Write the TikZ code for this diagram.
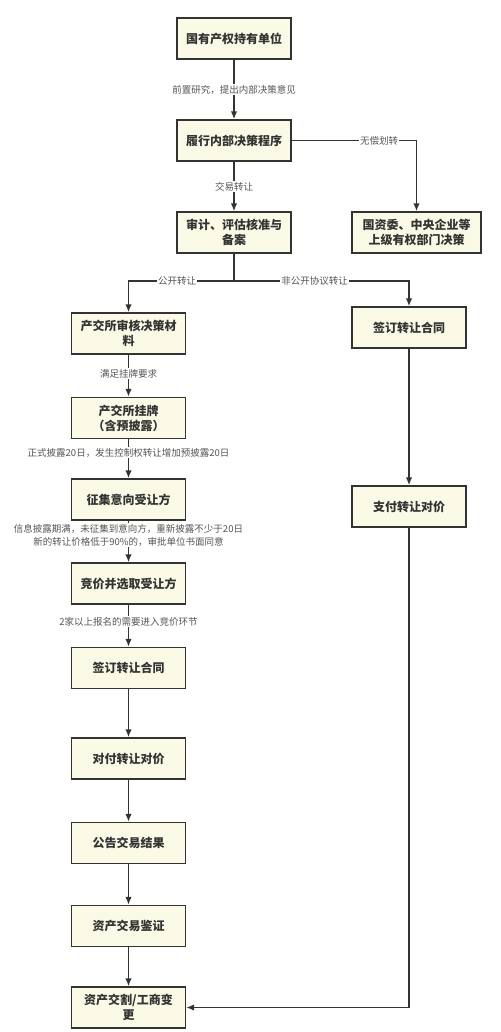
\documentclass[tikz,border=0pt]{standalone}
\usepackage{fontspec}
\setmainfont{Noto Sans CJK SC}
\usetikzlibrary{arrows.meta}
\definecolor{boxfill}{HTML}{FAFAE6}
\definecolor{boxline}{HTML}{333333}
\definecolor{lbltext}{HTML}{555555}

\begin{document}
\begin{tikzpicture}[x=1pt, y=-1pt,
	stepbox/.style={draw=boxline, line width=1.4pt, fill=boxfill, minimum width=114pt, minimum height=41pt, align=center, inner sep=2pt, font=\fontsize{12}{15}\selectfont\bfseries, text=boxline},
	arr/.style={draw=boxline, line width=1.5pt, -{Latex[length=8pt,width=6.5pt]}},
	lbl/.style={fill=white, inner sep=1pt, align=center, font=\fontsize{9.5}{12.5}\selectfont, text=lbltext}]
	\useasboundingbox[fill=white] (0,0) rectangle (500,1032);
	% top of the flow
	\node [stepbox] (hold) at (234,38.5) {国有产权持有单位};
	\node [stepbox] (decide) at (234,140.5) {履行内部决策程序};
	\node [stepbox] (audit) at (234,232.5) {审计、评估核准与\\备案};
	\node [stepbox, minimum width=129pt] (sasac) at (416.5,232.5) {国资委、中央企业等\\上级有权部门决策};
	% public transfer, left column
	\node [stepbox] (review) at (128.5,333.5) {产交所审核决策材\\料};
	\node [stepbox] (list) at (128.5,418) {产交所挂牌\\（含预披露）};
	\node [stepbox] (collect) at (128.5,499.5) {征集意向受让方};
	\node [stepbox] (bid) at (128.5,583.5) {竞价并选取受让方};
	\node [stepbox] (signL) at (128.5,668) {签订转让合同};
	\node [stepbox] (payL) at (128.5,758.5) {对付转让对价};
	\node [stepbox] (notice) at (128.5,843) {公告交易结果};
	\node [stepbox] (verify) at (128.5,926) {资产交易鉴证};
	\node [stepbox] (deliver) at (128.5,1007.5) {资产交割/工商变\\更};
	% non-public transfer, right column
	\node [stepbox] (signR) at (409,327.5) {签订转让合同};
	\node [stepbox] (payR) at (409,506.5) {支付转让对价};
	\coordinate (fork) at (234,281);

	\draw [arr] (hold) -- (decide) node [lbl, midway] {前置研究，提出内部决策意见};
	\draw [arr] (decide.east) -| (sasac.north) node [lbl, pos=0.35] {无偿划转};
	\draw [arr] (decide) -- (audit) node [lbl, midway] {交易转让};
	\draw [draw=boxline, line width=1.5pt] (audit.south) -- (fork);
	\draw [arr] (fork) -| (review.north) node [lbl, pos=0.27] {公开转让};
	\draw [arr] (fork) -| (signR.north) node [lbl, pos=0.23] {非公开协议转让};
	\draw [arr] (review) -- (list) node [lbl, pos=0.45] {满足挂牌要求};
	\draw [arr] (list) -- (collect) node [lbl, pos=0.35] {正式披露20日，发生控制权转让增加预披露20日};
	\draw [arr] (collect) -- (bid) node [lbl, pos=0.35] {信息披露期满，未征集到意向方，重新披露不少于20日\\新的转让价格低于90\%的，审批单位书面同意};
	\draw [arr] (bid) -- (signL) node [lbl, pos=0.4] {2家以上报名的需要进入竞价环节};
	\draw [arr] (signL) -- (payL);
	\draw [arr] (payL) -- (notice);
	\draw [arr] (notice) -- (verify);
	\draw [arr] (verify) -- (deliver);
	\draw [arr] (signR) -- (payR);
	\draw [arr] (payR.south) |- (deliver.east);
\end{tikzpicture}
\end{document}
